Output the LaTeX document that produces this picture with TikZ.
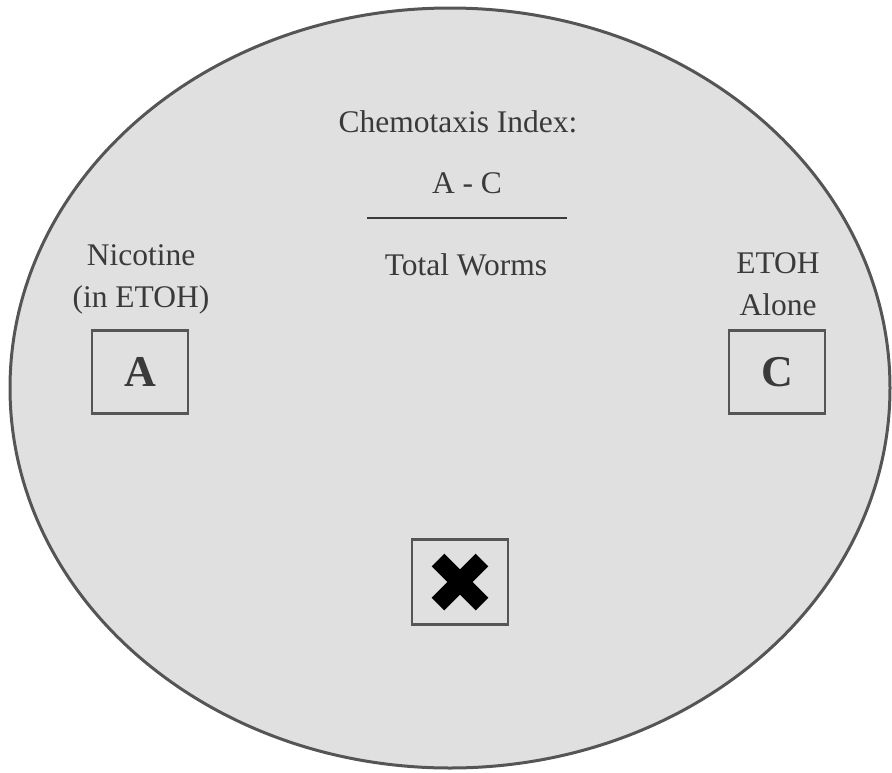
\documentclass[tikz,border=0pt]{standalone}
\usepackage{fontspec}
\usetikzlibrary{calc}
\setmainfont{Liberation Serif}
\definecolor{dishfill}{HTML}{E0E0E0}
\definecolor{edge}{HTML}{555555}
\definecolor{ink}{HTML}{3A3A3A}
\begin{document}
\begin{tikzpicture}[x=1pt,y=-1pt,
  lbl/.style={text=ink,font=\fontsize{31.5}{33}\selectfont,inner sep=0pt,anchor=center},
  well/.style={draw=edge,line width=2.5pt,minimum width=96pt,minimum height=83pt,inner sep=0pt,text=ink,font=\fontsize{44}{46}\selectfont\bfseries}]
\useasboundingbox (0,0) rectangle (892,772);
\draw[draw=edge,fill=dishfill,line width=3pt] (450,388) ellipse [x radius=440, y radius=380];
\node[lbl] (title) at (458,122) {Chemotaxis Index:};
\node[lbl] (num) at (467,183) {A - C};
\coordinate (barl) at (367,218);
\coordinate (barr) at (567,218);
\draw[ink,line width=2.5pt] (barl) -- (barr);
\node[lbl] (den) at (466,265) {Total Worms};
\node[lbl] (nic) at (141,255) {Nicotine};
\node[lbl] (inetoh) at (141,300) {(in ETOH)};
\node[well] (A) at (140,372) {A};
\node[lbl] (etoh) at (778,263) {ETOH};
\node[lbl] (alone) at (778,305) {Alone};
\node[well] (C) at (777,372) {C};
\node[well,minimum width=96pt,minimum height=85pt] (X) at (460,582) {};
\draw[black,line width=18pt] ($(X.center)+(-22,-22)$) -- ($(X.center)+(22,22)$);
\draw[black,line width=18pt] ($(X.center)+(-22,22)$) -- ($(X.center)+(22,-22)$);
\end{tikzpicture}
\end{document}
